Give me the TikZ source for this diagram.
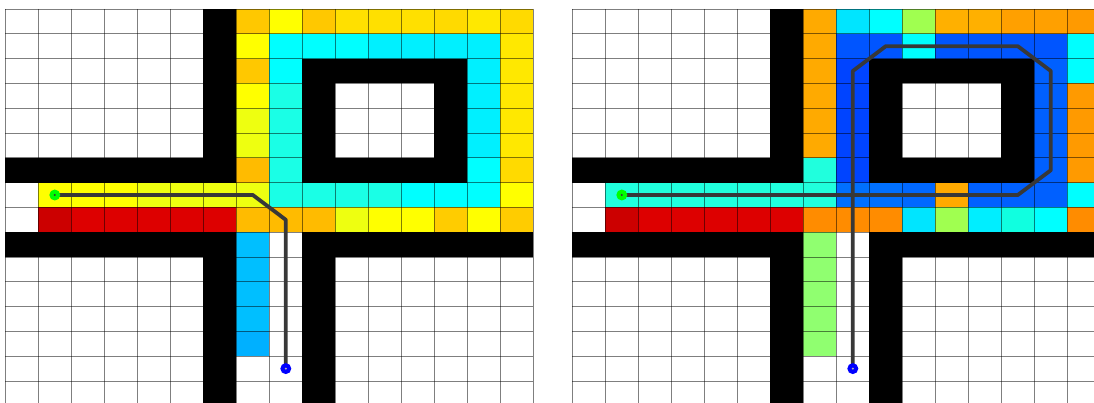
\documentclass[tikz,border=0pt]{standalone}
\definecolor{yel}{HTML}{FFFF00}
\definecolor{ygr}{HTML}{EEFF10}
\definecolor{oA}{HTML}{FFC800}
\definecolor{oB}{HTML}{FFBB00}
\definecolor{oC}{HTML}{FFCC00}
\definecolor{gA}{HTML}{FFE000}
\definecolor{gB}{HTML}{FFE800}
\definecolor{gC}{HTML}{FFDA00}
\definecolor{cy}{HTML}{00FFFF}
\definecolor{cyB}{HTML}{00F0FF}
\definecolor{aq}{HTML}{1AFFE6}
\definecolor{aqR}{HTML}{20FFDD}
\definecolor{aqS}{HTML}{10FFE0}
\definecolor{skA}{HTML}{00BFFF}
\definecolor{skB}{HTML}{00B0FF}
\definecolor{rdA}{HTML}{CC0000}
\definecolor{rdB}{HTML}{DD0000}
\definecolor{orA}{HTML}{FFAA00}
\definecolor{orB}{HTML}{FF8C00}
\definecolor{orC}{HTML}{FFA000}
\definecolor{orD}{HTML}{FF9A00}
\definecolor{orE}{HTML}{FFB000}
\definecolor{buA}{HTML}{0055FF}
\definecolor{buB}{HTML}{0044FF}
\definecolor{buC}{HTML}{0070FF}
\definecolor{buD}{HTML}{0060FF}
\definecolor{buE}{HTML}{0068FF}
\definecolor{lgr}{HTML}{90FF70}
\definecolor{lim}{HTML}{A0FF50}
\definecolor{cyC}{HTML}{00E5FF}
\definecolor{cyD}{HTML}{00EEFF}
\definecolor{pathgray}{HTML}{383838}
\tikzset{
  gridline/.style={line width=0.9pt, black, opacity=0.5},
  wall/.style={fill=black},
  route/.style={line width=3.8pt, pathgray, line join=round},
  startdot/.style={circle, fill={rgb,255:red,0;green,255;blue,0}, minimum size=11pt, inner sep=0pt},
  goaldot/.style={circle, fill={rgb,255:red,0;green,0;blue,255}, minimum size=11pt, inner sep=0pt},
}
\newcommand{\mapwalls}{%
  \fill[wall] (6,0) rectangle (7,7);
  \fill[wall] (0,6) rectangle (7,7);
  \fill[wall] (0,9) rectangle (7,10);
  \fill[wall] (6,9) rectangle (7,16);
  \fill[wall] (9,9) rectangle (16,10);
  \fill[wall] (9,9) rectangle (10,16);
  \fill[wall] (9,2) rectangle (14,7);
  \fill[white] (10,3) rectangle (13,6);
}
\newcommand{\mapgrid}{%
  \foreach \i in {0,...,16} {\draw[gridline] (\i,0) -- (\i,16);}
  \foreach \j in {0,...,16} {\draw[gridline] (0,\j) -- (16,\j);}
}
\begin{document}
\begin{tikzpicture}[x=1pt,y=-1pt]
\useasboundingbox (0,0) rectangle (1094,403);
\clip (0,0) rectangle (1094,403);
\fill[white] (0,0) rectangle (1094,403);
% ---------------- left panel ----------------
\begin{scope}[shift={(5.3pt,-9pt)}, x=33pt, y=-24.8pt]
  \foreach \c/\r/\k in {
    7/0/oA, 8/0/yel, 9/0/oA, 10/0/gA, 11/0/gA, 12/0/gA, 13/0/gC, 14/0/gB, 15/0/gC,
    7/1/yel, 8/1/cy, 9/1/cy, 10/1/cy, 11/1/cyB, 12/1/cyB, 13/1/cyB, 14/1/cyB, 15/1/gB,
    7/2/oA, 8/2/cy, 14/2/cyB, 15/2/gB,
    7/3/yel, 8/3/aq, 14/3/cyB, 15/3/gB,
    7/4/ygr, 8/4/aq, 14/4/cyB, 15/4/gB,
    7/5/ygr, 8/5/aq, 14/5/cyB, 15/5/gB,
    7/6/oB, 8/6/aq, 14/6/cy, 15/6/gC,
    1/7/yel, 2/7/yel, 3/7/yel, 4/7/ygr, 5/7/ygr, 6/7/ygr, 7/7/ygr, 8/7/aq, 9/7/aq, 10/7/aq, 11/7/aq, 12/7/cy, 13/7/cy, 14/7/cy, 15/7/yel,
    1/8/rdA, 2/8/rdB, 3/8/rdB, 4/8/rdB, 5/8/rdB, 6/8/rdB, 7/8/oB, 8/8/oB, 9/8/oB, 10/8/ygr, 11/8/yel, 12/8/yel, 13/8/oC, 14/8/yel, 15/8/oC,
    7/9/skA, 7/10/skA, 7/11/skA, 7/12/skA, 7/13/skB}
  {\fill[\k] (\c,\r) rectangle ++(1,1);}
  \mapwalls
  \mapgrid
  \coordinate (sA) at (1.5,7.5);
  \coordinate (eA) at (8.5,14.5);
  \draw[route] (sA) -- (7.5,7.5) -- (8.5,8.5) -- (eA);
  \node[startdot] (startA) at (sA) {};
  \node[goaldot] (goalA) at (eA) {};
  \fill[pathgray] (startA.center) circle (1.1pt);
  \fill[gray!60] (goalA.center) circle (1.1pt);
\end{scope}
% ---------------- right panel ----------------
\begin{scope}[shift={(572.3pt,-9pt)}, x=33pt, y=-24.8pt]
  \foreach \c/\r/\k in {
    7/0/orA, 8/0/cyC, 9/0/cy, 10/0/lim, 11/0/orE, 12/0/orE, 13/0/orC, 14/0/orC, 15/0/orD,
    7/1/orA, 8/1/buA, 9/1/buA, 10/1/cy, 11/1/buA, 12/1/buA, 13/1/buA, 14/1/buA, 15/1/cy,
    7/2/orA, 8/2/buB, 14/2/buD, 15/2/cy,
    7/3/orA, 8/3/buB, 14/3/buD, 15/3/orD,
    7/4/orA, 8/4/buB, 14/4/buD, 15/4/orD,
    7/5/orA, 8/5/buB, 14/5/buD, 15/5/orD,
    7/6/aqR, 8/6/buB, 14/6/buD, 15/6/orD,
    1/7/aqR, 2/7/aqR, 3/7/aqR, 4/7/aqR, 5/7/aqR, 6/7/aqR, 7/7/aqR, 8/7/buC, 9/7/buC, 10/7/buE, 11/7/orA, 12/7/buD, 13/7/buD, 14/7/buD, 15/7/cy,
    1/8/rdA, 2/8/rdB, 3/8/rdB, 4/8/rdB, 5/8/rdB, 6/8/rdB, 7/8/orB, 8/8/orB, 9/8/orB, 10/8/cyC, 11/8/lim, 12/8/cyD, 13/8/aqS, 14/8/cy, 15/8/orB,
    7/9/lgr, 7/10/lgr, 7/11/lgr, 7/12/lgr, 7/13/lgr}
  {\fill[\k] (\c,\r) rectangle ++(1,1);}
  \mapwalls
  \mapgrid
  \coordinate (sB) at (1.5,7.5);
  \coordinate (eB) at (8.5,14.5);
  \draw[route] (sB) -- (13.5,7.5) -- (14.5,6.5) -- (14.5,2.5) -- (13.5,1.5) -- (9.5,1.5) -- (8.5,2.5) -- (eB);
  \node[startdot] (startB) at (sB) {};
  \node[goaldot] (goalB) at (eB) {};
  \fill[pathgray] (startB.center) circle (1.1pt);
  \fill[gray!60] (goalB.center) circle (1.1pt);
\end{scope}
\end{tikzpicture}
\end{document}
